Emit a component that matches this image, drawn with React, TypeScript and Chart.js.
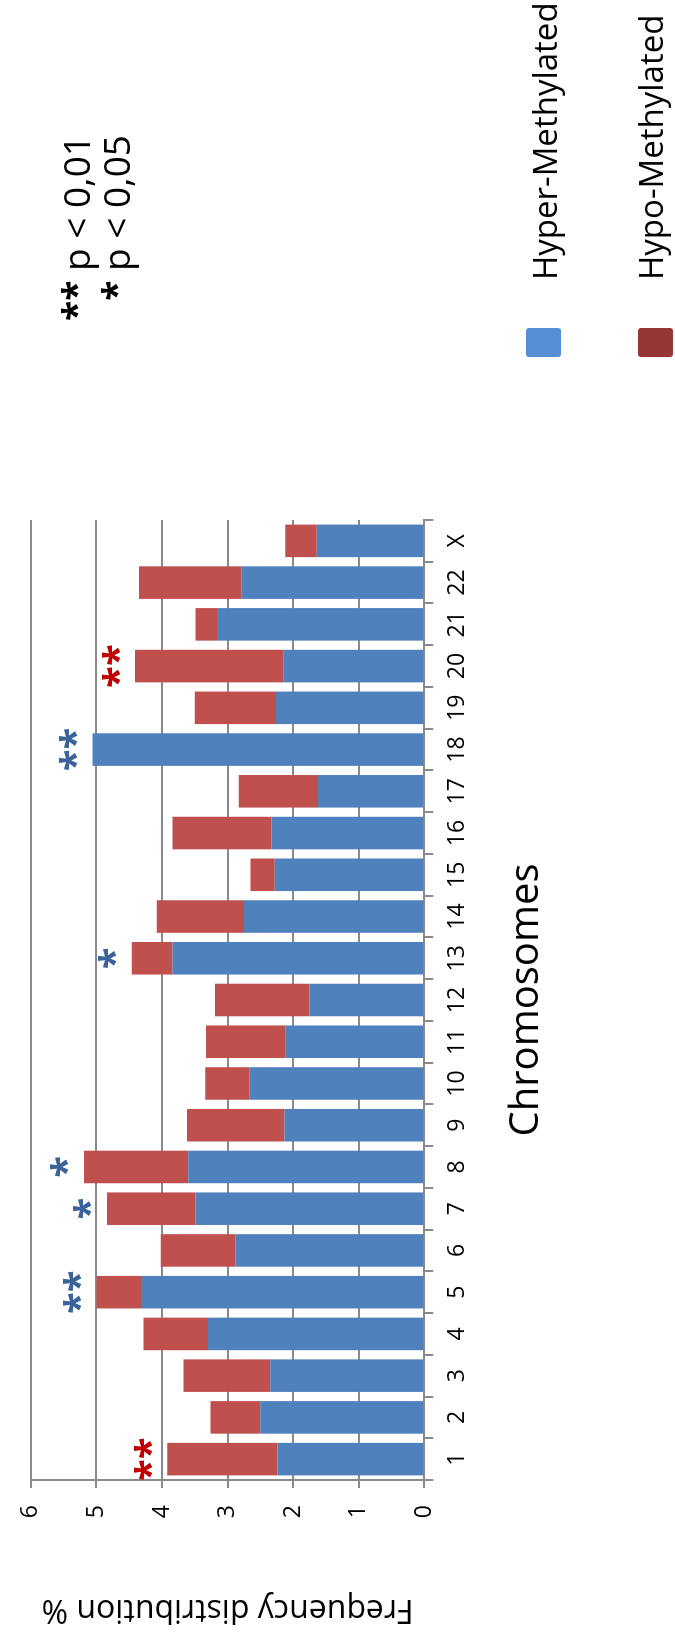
import React, { useEffect, useRef } from "react";
import { Chart, registerables } from "chart.js";

Chart.register(...registerables);

const categories = ["1","2","3","4","5","6","7","8","9","10","11","12","13","14","15","16","17","18","19","20","21","22","X"];
const hyperValues = [2.24, 2.50, 2.35, 3.30, 4.32, 2.88, 3.49, 3.60, 2.13, 2.67, 2.12, 1.75, 3.84, 2.75, 2.28, 2.33, 1.62, 5.06, 2.26, 2.15, 3.16, 2.79, 1.64];
const hypoValues = [1.68, 0.76, 1.32, 0.98, 0.68, 1.14, 1.35, 1.59, 1.49, 0.67, 1.21, 1.44, 0.62, 1.33, 0.37, 1.51, 1.21, 0, 1.24, 2.26, 0.33, 1.56, 0.48];
const hyperSig = ["", "", "", "", "**", "", "*", "*", "", "", "", "", "*", "", "", "", "", "**", "", "", "", "", ""];
const hypoSig = ["**", "", "", "", "", "", "", "", "", "", "", "", "", "", "", "", "", "", "", "**", "", "", ""];
const valueTicks = [0, 1, 2, 3, 4, 5, 6];
const seriesNames = ["Hyper-Methylated", "Hypo-Methylated"];
const pLegend = ["** p < 0,01", "* p < 0,05"];
const xTitle = "Chromosomes";
const yTitle = "Frequency distribution %";

const FONT = "'Open Sans', 'Noto Sans', sans-serif";
const W = 1638;
const H = 675;

export default function App() {
  const ref = useRef<HTMLCanvasElement | null>(null);

  useEffect(() => {
    document.body.style.overflow = "hidden";
    const canvas = ref.current;
    if (!canvas) return;

    const textPlugin = {
      id: "customText",
      afterDraw(chart: any) {
        const ctx = chart.ctx as CanvasRenderingContext2D;
        const xs = chart.scales.x;
        const ys = chart.scales.y;
        const area = chart.chartArea;
        ctx.save();
        // significance asterisks above bars
        ctx.font = `bold 40px ${FONT}`;
        ctx.textAlign = "center";
        ctx.textBaseline = "alphabetic";
        categories.forEach((c, i) => {
          const total = hyperValues[i] + hypoValues[i];
          const labels = [
            { t: hyperSig[i], col: "#3A639A" },
            { t: hypoSig[i], col: "#C00000" },
          ];
          labels.forEach((l) => {
            if (!l.t) return;
            const cx = xs.getPixelForValue(i);
            const cy = ys.getPixelForValue(total) - 24;
            const m = ctx.measureText(l.t);
            const mid = (m.actualBoundingBoxAscent - m.actualBoundingBoxDescent) / 2;
            ctx.fillStyle = l.col;
            ctx.fillText(l.t, cx, cy + mid);
          });
        });

        // x title
        ctx.fillStyle = "#000";
        ctx.font = `40px ${FONT}`;
        ctx.textAlign = "center";
        ctx.fillText(xTitle, (area.left + area.right) / 2, 538);

        // y title (rotated)
        ctx.save();
        ctx.translate(38, (area.top + area.bottom) / 2);
        ctx.rotate(-Math.PI / 2);
        ctx.font = `32px ${FONT}`;
        ctx.textAlign = "center";
        ctx.fillText(yTitle, 0, 0);
        ctx.restore();

        // p-value legend (right aligned)
        ctx.textAlign = "right";
        const pBase = [90, 130];
        pLegend.forEach((t, k) => {
          const parts = t.split(" ");
          const stars = parts[0];
          const rest = " " + parts.slice(1).join(" ");
          ctx.font = `37px ${FONT}`;
          const wRest = ctx.measureText(rest).width;
          ctx.fillText(rest, 1503, pBase[k]);
          ctx.font = `bold 37px ${FONT}`;
          ctx.fillText(stars, 1503 - wRest, pBase[k]);
        });

        // series legend
        const legendColors = ["#558ED5", "#953735"];
        const legendTop = [526, 638];
        const legendBase = [557, 663];
        seriesNames.forEach((n, k) => {
          ctx.fillStyle = legendColors[k];
          const x0 = 1281, y0 = legendTop[k], w = 29, h = 35, r = 3;
          ctx.beginPath();
          ctx.moveTo(x0 + r, y0);
          ctx.arcTo(x0 + w, y0, x0 + w, y0 + h, r);
          ctx.arcTo(x0 + w, y0 + h, x0, y0 + h, r);
          ctx.arcTo(x0, y0 + h, x0, y0, r);
          ctx.arcTo(x0, y0, x0 + w, y0, r);
          ctx.closePath();
          ctx.fill();
          ctx.fillStyle = "#000";
          ctx.font = `33px ${FONT}`;
          ctx.textAlign = "left";
          ctx.fillText(n, 1358, legendBase[k]);
        });
        ctx.restore();
      },
    };

    const chart = new Chart(canvas, {
      type: "bar",
      data: {
        labels: categories,
        datasets: [
          { label: seriesNames[0], data: hyperValues, backgroundColor: "#4F81BD", borderWidth: 0 },
          { label: seriesNames[1], data: hypoValues, backgroundColor: "#C0504D", borderWidth: 0 },
        ],
      },
      options: {
        animation: false,
        responsive: false,
        devicePixelRatio: 1,
        layout: { padding: { left: 0, top: 19.3, right: 520, bottom: 0 } },
        datasets: { bar: { barPercentage: 0.78, categoryPercentage: 1 } },
        plugins: { legend: { display: false }, tooltip: { enabled: false }, title: { display: false } },
        scales: {
          x: {
            stacked: true,
            afterFit: (s: any) => { s.height = 250.7; },
            grid: { display: true, drawOnChartArea: false, drawTicks: true, tickLength: 9, offset: true, color: "#8A8A8A", lineWidth: 2 },
            border: { display: true, color: "#8A8A8A", width: 2 },
            ticks: { font: { family: FONT, size: 23 }, color: "#000", padding: 10, maxRotation: 0, autoSkip: false },
          },
          y: {
            stacked: true,
            min: 0,
            max: 6,
            afterFit: (s: any) => { s.width = 158; },
            afterBuildTicks: (s: any) => { s.ticks = valueTicks.map((v) => ({ value: v })); },
            grid: { display: true, drawOnChartArea: true, drawTicks: true, tickLength: 8, color: "#8A8A8A", lineWidth: 2 },
            border: { display: true, color: "#8A8A8A", width: 2 },
            ticks: { font: { family: FONT, size: 23 }, color: "#000", padding: 17 },
          },
        },
      },
      plugins: [textPlugin],
    } as any);

    return () => chart.destroy();
  }, []);

  return (
    <div
      style={{
        position: "absolute",
        left: 0,
        top: 0,
        width: W,
        height: H,
        background: "#fff",
        transformOrigin: "0 0",
        transform: `translateY(${W}px) rotate(-90deg)`,
      }}
    >
      <canvas ref={ref} width={W} height={H} style={{ display: "block", width: W, height: H }} />
    </div>
  );
}
